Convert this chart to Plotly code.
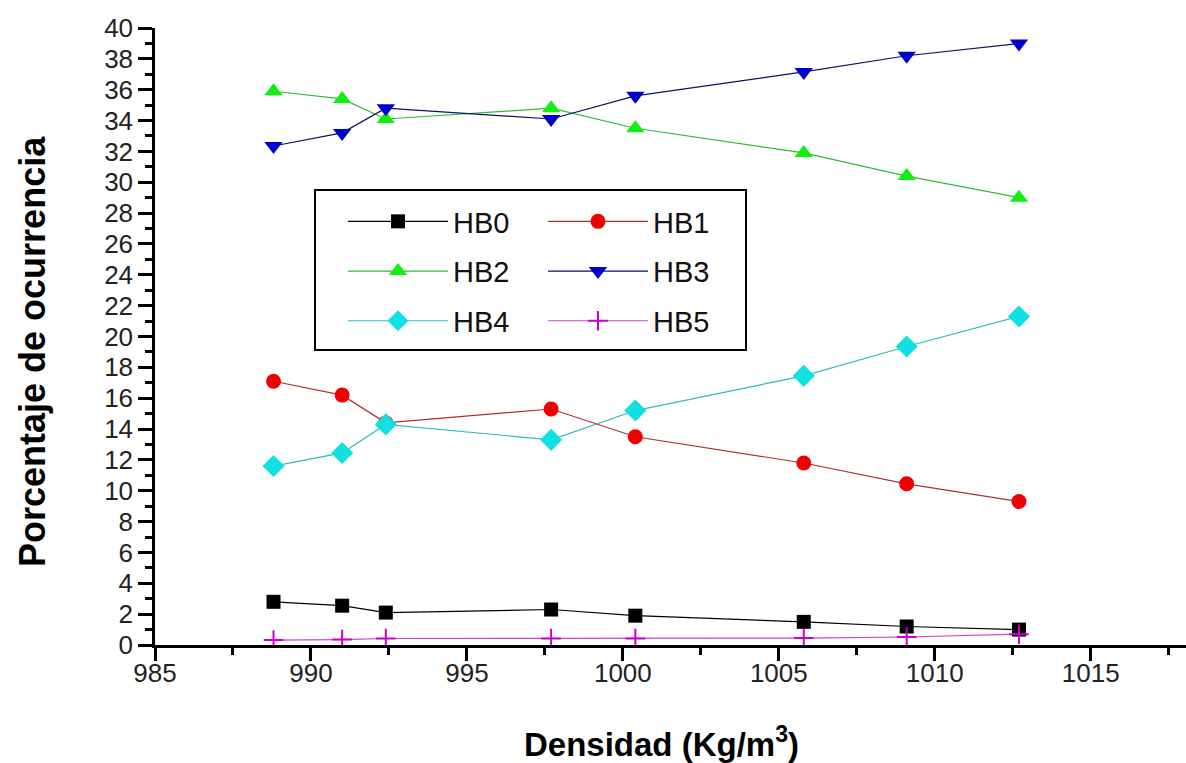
import plotly.graph_objects as go

# Densidad (kg/m^3) de cada simulación
densidad = [988.8, 991.0, 992.4, 997.7, 1000.4, 1005.8, 1009.1, 1012.7]

# Porcentaje de ocurrencia por número de puentes de hidrógeno
hb0 = [2.8, 2.55, 2.1, 2.3, 1.9, 1.5, 1.2, 1.0]
hb1 = [17.1, 16.2, 14.4, 15.3, 13.5, 11.8, 10.45, 9.3]
hb2 = [35.9, 35.4, 34.1, 34.8, 33.5, 31.9, 30.4, 29.0]
hb3 = [32.35, 33.2, 34.8, 34.1, 35.6, 37.15, 38.2, 39.0]
hb4 = [11.6, 12.45, 14.3, 13.3, 15.2, 17.45, 19.35, 21.3]
hb5 = [0.32, 0.35, 0.42, 0.42, 0.42, 0.45, 0.52, 0.70]

x_ticks = [985, 990, 995, 1000, 1005, 1010, 1015]
y_ticks = list(range(0, 41, 2))

series = [
    # name, values, line colour, marker colour, symbol, size, legend
    ("HB0", hb0, "#000000", "#000000", "square", 14, "legend"),
    ("HB1", hb1, "#b03030", "#ee0000", "circle", 15, "legend2"),
    ("HB2", hb2, "#33bb33", "#11ee11", "triangle-up", 16, "legend"),
    ("HB3", hb3, "#101060", "#0000cc", "triangle-down", 16, "legend2"),
    ("HB4", hb4, "#33bbbb", "#11e0e0", "diamond", 17, "legend"),
    ("HB5", hb5, "#cc44cc", "#cc00cc", "cross-thin", 14, "legend2"),
]

fig = go.Figure()
for i, (name, vals, lc, mc, sym, size, leg) in enumerate(series):
    marker = dict(symbol=sym, size=size, color=mc)
    if sym == "cross-thin":
        marker["line"] = dict(color=mc, width=2)
    fig.add_trace(go.Scatter(
        x=densidad, y=vals, name=name, mode="lines+markers",
        line=dict(color=lc, width=1.2),
        marker=marker,
        legend=leg, legendgroup=f"g{i}",
    ))

W, H = 1186, 763
L, R, T, B = 155, 0, 28, 118
pw, ph = W - L - R, H - T - B


def px(xp):
    return (xp - L) / pw


def py(yp):
    return (H - B - yp) / ph


FAMILY = "Liberation Sans, Arial, sans-serif"
axis_font = dict(family=FAMILY, size=26, color="#222222")
legend_font = dict(family=FAMILY, size=29, color="#111111")

fig.update_layout(
    width=W, height=H,
    margin=dict(l=L, r=R, t=T, b=B),
    paper_bgcolor="white", plot_bgcolor="white",
    font=dict(family=FAMILY),
    xaxis=dict(
        range=[985, 985 + pw / 31.19],
        tickmode="array", tickvals=x_ticks, ticktext=[str(v) for v in x_ticks],
        ticks="outside", ticklen=13, tickwidth=2.5, tickcolor="black",
        minor=dict(dtick=2.5, tick0=985, ticks="outside", ticklen=7, tickwidth=2.5, tickcolor="black"),
        showline=True, linecolor="black", linewidth=2.5,
        showgrid=False, zeroline=False, tickfont=axis_font,
        ticklabelstandoff=-10,
    ),
    yaxis=dict(
        range=[0, 40],
        tickmode="array", tickvals=y_ticks, ticktext=[str(v) for v in y_ticks],
        ticks="outside", ticklen=14, tickwidth=2.5, tickcolor="black",
        minor=dict(dtick=1, tick0=0, ticks="outside", ticklen=7, tickwidth=2.5, tickcolor="black"),
        showline=True, linecolor="black", linewidth=2.5,
        showgrid=False, zeroline=False, tickfont=axis_font,
    ),
    legend=dict(
        x=px(343), y=py(196), xanchor="left", yanchor="top",
        font=legend_font, bgcolor="rgba(0,0,0,0)", borderwidth=0,
        tracegroupgap=9, itemwidth=100,
    ),
    legend2=dict(
        x=px(543), y=py(196), xanchor="left", yanchor="top",
        font=legend_font, bgcolor="rgba(0,0,0,0)", borderwidth=0,
        tracegroupgap=9, itemwidth=100,
    ),
    shapes=[dict(
        type="rect", xref="paper", yref="paper",
        x0=px(315), x1=px(746), y0=py(350), y1=py(190),
        line=dict(color="black", width=2), fillcolor="rgba(0,0,0,0)", layer="below",
    )],
    annotations=[
        dict(text="Densidad (Kg/m<sup>3</sup>)", xref="paper", yref="paper",
             x=px(661), y=py(742), xanchor="center", yanchor="middle",
             showarrow=False,
             font=dict(family=FAMILY, size=33, color="#000000", weight="bold")),
        dict(text="Porcentaje de ocurrencia", xref="paper", yref="paper",
             x=px(33), y=py(352), xanchor="center", yanchor="middle",
             textangle=-90, showarrow=False,
             font=dict(family=FAMILY, size=36, color="#000000", weight="bold")),
    ],
)

fig.write_html("out.html")
